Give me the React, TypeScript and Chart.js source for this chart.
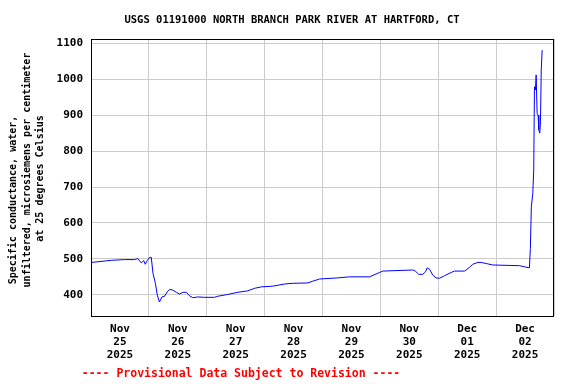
import React, { useEffect, useRef } from "react";
import { Chart, registerables } from "chart.js";

Chart.register(...registerables);

// hours since Nov 25 2025 00:00
const hours = [
  0.1, 8.4, 13.9, 18.1, 19.4, 20.8, 21.9, 22.5, 23.3, 24.3, 25.0, 25.7, 26.7, 27.5, 28.4, 29.4,
  30.5, 31.6, 32.6, 33.9, 35.4, 36.7, 38.1, 39.5, 40.9, 42.2, 44.3, 47.1, 51.2, 52.6, 56.7,
  60.9, 65.0, 67.8, 70.6, 75.4, 80.2, 83.7, 89.9, 92.0, 94.8, 102.3, 107.2, 115.5, 119.6,
  121.0, 133.4, 134.5, 135.9, 137.6, 138.7, 139.4, 140.4, 141.7, 143.1, 144.5, 146.6, 149.3,
  150.7, 154.9, 156.9, 158.3, 160.4, 161.8, 163.9, 166.6, 177.7, 179.7, 181.8, 182.2, 182.6,
  183.2, 183.6, 183.9, 184.3, 184.6, 185.0, 185.4, 185.7, 186.1, 186.4, 186.7, 187.1,
];
const conductance = [
  490, 496, 498, 498, 501, 489, 495, 485, 495, 504, 504, 460, 432, 399, 380, 394,
  396, 408, 415, 413, 407, 402, 407, 407, 397, 392, 394, 393, 393, 396, 401,
  407, 411, 418, 422, 424, 430, 432, 433, 438, 444, 447, 450, 450, 462,
  466, 469, 466, 457, 457, 464, 475, 471, 455, 447, 446, 453, 462,
  466, 466, 476, 485, 490, 490, 487, 483, 481, 478, 475, 529, 645,
  682, 747, 979, 970, 1012, 905, 900, 859, 850, 882, 1026, 1081,
];
const dayLabels = [
  ["Nov", "25", "2025"],
  ["Nov", "26", "2025"],
  ["Nov", "27", "2025"],
  ["Nov", "28", "2025"],
  ["Nov", "29", "2025"],
  ["Nov", "30", "2025"],
  ["Dec", "01", "2025"],
  ["Dec", "02", "2025"],
];
const yTicks = [400, 500, 600, 700, 800, 900, 1000, 1100];
const titleText = "USGS 01191000 NORTH BRANCH PARK RIVER AT HARTFORD, CT";
const yTitleLines = [
  "Specific conductance, water,",
  "unfiltered, microsiemens per centimeter",
  "at 25 degrees Celsius",
];
const footerText = "---- Provisional Data Subject to Revision ----";

const FONT = "'DejaVu Sans Mono', monospace";

export default function App() {
  const ref = useRef<HTMLCanvasElement | null>(null);
  useEffect(() => {
    if (!ref.current) return;
    const decor = {
      id: "decor",
      afterDraw(chart: any) {
        const ctx = chart.ctx;
        const a = chart.chartArea;
        ctx.save();
        ctx.strokeStyle = "#000";
        ctx.lineWidth = 1;
        ctx.strokeRect(Math.round(a.left) + 0.5, Math.round(a.top) + 0.5, Math.round(a.right - a.left) - 1, Math.round(a.bottom - a.top));
        ctx.fillStyle = "#000";
        ctx.textAlign = "center";
        ctx.textBaseline = "middle";
        ctx.font = `bold 10.5px ${FONT}`;
        ctx.fillText(titleText, 292, 20.5);
        ctx.font = `bold 10px ${FONT}`;
        const ys = [200, 170, 178.5];
        const xs = [13, 27, 40];
        yTitleLines.forEach((t, i) => {
          ctx.save();
          ctx.translate(xs[i], ys[i]);
          ctx.rotate(-Math.PI / 2);
          ctx.fillText(t, 0, 0);
          ctx.restore();
        });
        ctx.fillStyle = "#ff0000";
        ctx.font = `bold 11.5px ${FONT}`;
        ctx.fillText(footerText, 241, 374);
        ctx.restore();
      },
    };
    const chart = new Chart(ref.current, {
      type: "line",
      data: {
        datasets: [
          {
            data: hours.map((h, i) => ({ x: h, y: conductance[i] })),
            borderColor: "#0000ff",
            borderWidth: 1,
            pointRadius: 0,
            fill: false,
            tension: 0,
          },
        ],
      },
      options: {
        animation: false,
        responsive: false,
        devicePixelRatio: 1,
        layout: { padding: { top: 39, right: 22, left: 0, bottom: 0 } },
        plugins: { legend: { display: false }, tooltip: { enabled: false }, title: { display: false } },
        scales: {
          x: {
            type: "linear",
            min: 0,
            max: 192,
            border: { display: false },
            grid: {
              drawTicks: false,
              color: (c: any) => (c.tick && c.tick.value % 24 === 0 ? "#cccccc" : "rgba(0,0,0,0)"),
            },
            afterBuildTicks: (s: any) => {
              const t = [];
              for (let v = 0; v <= 192; v += 12) t.push({ value: v });
              s.ticks = t;
            },
            afterFit: (s: any) => {
              s.height = 68;
            },
            ticks: {
              autoSkip: false,
              maxRotation: 0,
              minRotation: 0,
              padding: 7,
              color: "#000",
              font: { family: FONT, size: 11, weight: "bold", lineHeight: "13px" },
              callback: (v: any) => {
                const n = Number(v);
                if (n % 24 === 12) return dayLabels[(n - 12) / 24];
                return "";
              },
            },
          },
          y: {
            type: "linear",
            min: 341,
            max: 1112,
            border: { display: false },
            grid: { drawTicks: false, color: "#cccccc" },
            afterBuildTicks: (s: any) => {
              s.ticks = yTicks.map((v) => ({ value: v }));
            },
            afterFit: (s: any) => {
              s.width = 91;
            },
            ticks: {
              padding: 8,
              color: "#000",
              font: { family: FONT, size: 11, weight: "bold" },
              callback: (v: any) => String(v),
            },
          },
        },
      },
      plugins: [decor],
    });
    return () => chart.destroy();
  }, []);
  return (
    <div style={{ position: "fixed", left: 0, top: 0, width: 576, height: 384, background: "#fff" }}>
      <canvas ref={ref} width={576} height={384} style={{ width: 576, height: 384 }} />
    </div>
  );
}
